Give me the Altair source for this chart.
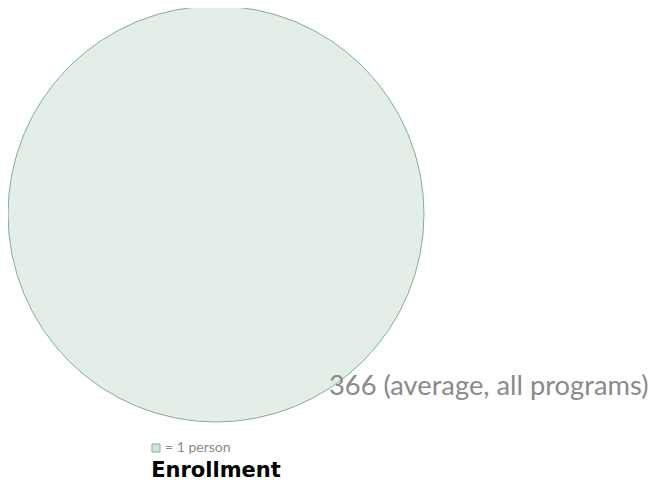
import altair as alt
import pandas as pd

# data
enrollment = [366]
labels = ["366 (average, all programs)"]
unit_people = [1]
unit_labels = ["= 1 person"]
title_text = ["Enrollment"]

max_diameter = 416

circle_df = pd.DataFrame({"value": enrollment, "label": labels})
unit_df = pd.DataFrame({"value": unit_people, "label": unit_labels})
title_df = pd.DataFrame({"label": title_text})

size_scale = alt.Scale(domain=[0, 366], range=[0, max_diameter ** 2])

circle = alt.Chart(circle_df).mark_point(
    shape="circle", filled=True, fill="#e4eee8", stroke="#80b192",
    strokeWidth=1, opacity=1, fillOpacity=1, strokeOpacity=1
).encode(
    x=alt.value(208), y=alt.value(206),
    size=alt.Size("value:Q", scale=size_scale, legend=None),
)

label = alt.Chart(circle_df).mark_text(
    align="left", baseline="alphabetic", font="Lato", fontSize=27.3, color="#8a8a8a"
).encode(x=alt.value(321), y=alt.value(387), text="label:N")

unit_sq = alt.Chart(unit_df).mark_point(
    shape="square", filled=True, fill="#d3e3d8", stroke="#80b192",
    strokeWidth=1, opacity=1, fillOpacity=1, strokeOpacity=1
).encode(x=alt.value(148), y=alt.value(440), size=alt.value(64))

unit_txt = alt.Chart(unit_df).mark_text(
    align="left", baseline="middle", font="Lato", fontSize=14, color="#8a8a8a"
).encode(x=alt.value(157), y=alt.value(440), text="label:N")

title = alt.Chart(title_df).mark_text(
    align="center", baseline="bottom", font="DejaVu Sans", fontSize=21,
    fontWeight="bold", color="#000000"
).encode(x=alt.value(208), y=alt.value(473), text="label:N")

chart = alt.layer(circle, label, unit_sq, unit_txt, title).properties(
    width=644, height=473, autosize="none", padding=0
).configure_view(stroke=None)

chart.save("out.html", embed_options={"renderer": "svg", "actions": False})
